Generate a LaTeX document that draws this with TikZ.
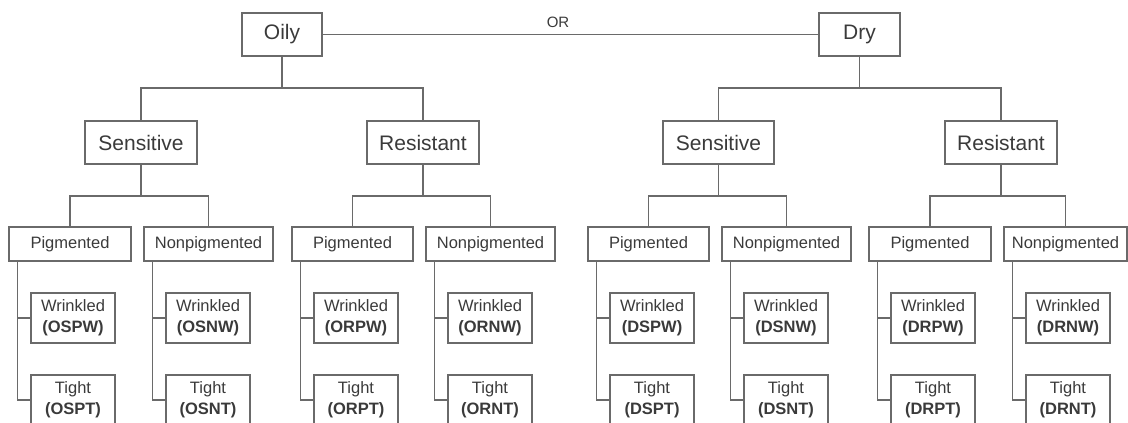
\documentclass[tikz,border=0pt]{standalone}
\usepackage{fontspec}
\setmainfont{Liberation Sans}
\definecolor{linec}{HTML}{6A6A6A}
\definecolor{txtc}{HTML}{3A3A3A}
\begin{document}
\begin{tikzpicture}[x=1pt,y=-1pt,
  box/.style={draw=linec,line width=1.5pt,inner sep=0pt,text=txtc},
  big/.style={box,minimum height=43pt,font=\fontsize{21}{25}\selectfont},
  mid/.style={box,minimum height=34pt,font=\fontsize{16.5}{20}\selectfont},
  leaf/.style={box,minimum height=50pt,minimum width=84pt,align=center,font=\fontsize{16.5}{21}\selectfont},
  conn/.style={draw=linec,line width=1.5pt}]
\useasboundingbox (0,0) rectangle (1128,423);
\clip (0,0) rectangle (1128,423);
% level 1
\node[big,minimum width=80pt] (oily) at (282,34.5) {Oily};
\node[big,minimum width=81pt] (dry) at (859.5,34.5) {Dry};
\node[text=txtc,font=\fontsize{15}{18}\selectfont] (orlab) at (558,22) {OR};
\draw[conn] (oily.east) -- (dry.west);
% level 2
\node[big,minimum width=112pt] (os) at (141,142.5) {Sensitive};
\node[big,minimum width=112pt] (or) at (423,142.5) {Resistant};
\node[big,minimum width=111pt] (ds) at (718.5,142.5) {Sensitive};
\node[big,minimum width=112pt] (dr) at (1001,142.5) {Resistant};
\coordinate (jo) at (282,88);
\coordinate (jd) at (859.5,88);
\draw[conn] (oily.south) -- (jo);
\draw[conn] (os.north) |- (jo) -| (or.north);
\draw[conn] (dry.south) -- (jd);
\draw[conn] (ds.north) |- (jd) -| (dr.north);
% level 3
\node[mid,minimum width=122pt] (osp) at (70,244) {Pigmented};
\node[mid,minimum width=129pt] (osn) at (208.5,244) {Nonpigmented};
\node[mid,minimum width=121pt] (orp) at (352.5,244) {Pigmented};
\node[mid,minimum width=129pt] (orn) at (490.5,244) {Nonpigmented};
\node[mid,minimum width=121pt] (dsp) at (648.5,244) {Pigmented};
\node[mid,minimum width=129pt] (dsn) at (786.5,244) {Nonpigmented};
\node[mid,minimum width=122pt] (drp) at (930,244) {Pigmented};
\node[mid,minimum width=123pt] (drn) at (1065.5,244) {Nonpigmented};
\foreach \a/\b/\c in {os/osp/osn, or/orp/orn, ds/dsp/dsn, dr/drp/drn}{
  \coordinate (\a j) at ([yshift=-31pt]\a.south);
  \draw[conn] (\a.south) -- (\a j);
  \draw[conn] (\b.north) |- (\a j) -| (\c.north);
}
% level 4
\foreach \p/\l/\c in {osp/9/OSP, osn/144/OSN, orp/292/ORP, orn/426/ORN, dsp/588/DSP, dsn/722/DSN, drp/869/DRP, drn/1004/DRN}{
  \node[leaf] (\p w) at (\l+64,318) {Wrinkled\\\textbf{(\c W)}};
  \node[leaf] (\p t) at (\l+64,400) {Tight\\\textbf{(\c T)}};
  \coordinate (\p v) at ([xshift=9pt]\p.south west);
  \draw[conn] (\p v) |- (\p w.west);
  \draw[conn] (\p v) |- (\p t.west);
}
\end{tikzpicture}
\end{document}
